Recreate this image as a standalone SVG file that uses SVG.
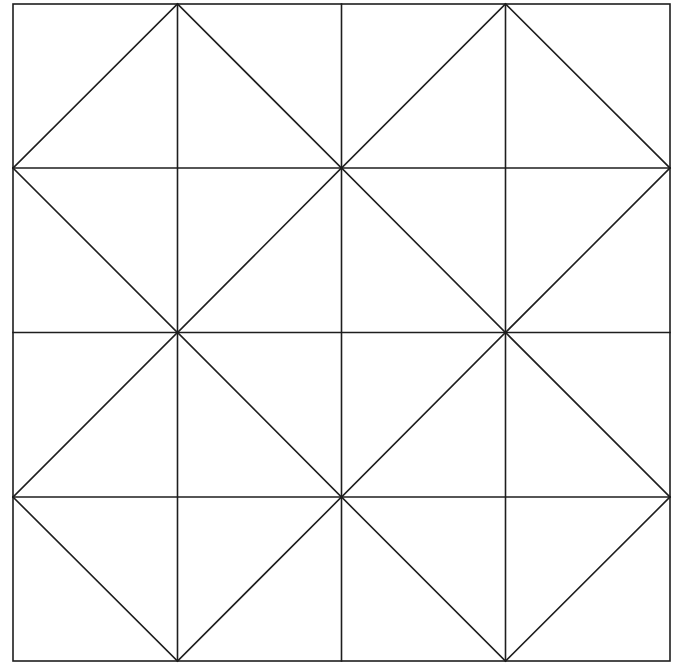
<svg xmlns="http://www.w3.org/2000/svg" width="683" height="667" viewBox="0 0 683 667">
<style>
.l{stroke:#1e1e1e;stroke-width:1.6;fill:none;stroke-linecap:square}
</style>
<rect width="683" height="667" fill="#fff"/>
<g id="grid" class="l">
<rect x="13" y="4" width="657" height="657"/>
<line x1="177.5" y1="4" x2="177.5" y2="661"/>
<line x1="341.5" y1="4" x2="341.5" y2="661"/>
<line x1="505.5" y1="4" x2="505.5" y2="661"/>
<line x1="13" y1="168" x2="670" y2="168"/>
<line x1="13" y1="332.5" x2="670" y2="332.5"/>
<line x1="13" y1="497" x2="670" y2="497"/>
</g>
<g id="diagonals" class="l">
<polyline points="13,168 177.5,4 341.5,168 505.5,4 670,168"/>
<polyline points="13,168 177.5,332.5 341.5,168 505.5,332.5 670,168"/>
<polyline points="13,497 177.5,332.5 341.5,497 505.5,332.5 670,497"/>
<polyline points="13,497 177.5,661 341.5,497 505.5,661 670,497"/>
</g>
</svg>
